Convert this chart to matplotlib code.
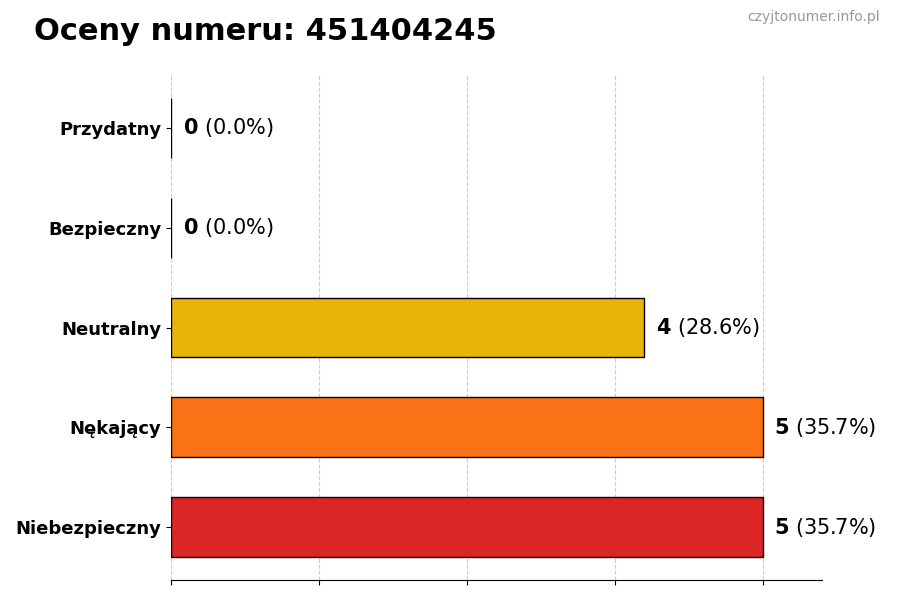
import matplotlib
matplotlib.use("Agg")
import matplotlib.pyplot as plt

categories = ["Niebezpieczny", "Nękający", "Neutralny", "Bezpieczny", "Przydatny"]
counts = [5, 5, 4, 0, 0]
colors = ["#dc2626", "#f97316", "#eab308", "#22c55e", "#3b82f6"]
number = "451404245"
total = sum(counts)

fig = plt.figure(figsize=(9, 6), dpi=100)
ax = fig.add_axes([0.19, 0.0333, 0.723, 0.8417])
bars = ax.barh(range(len(categories)), counts, height=0.6, color=colors,
               edgecolor="black", linewidth=1, zorder=3)
ax.set_yticks(range(len(categories)))
ax.set_yticklabels(categories, fontsize=13, fontweight="bold")
mx = max(counts)
ax.set_xlim(0, mx * 1.1)
ax.set_xticks([mx * i / 4 for i in range(5)])
ax.set_xticklabels([])
ax.grid(axis="x", linestyle="--", color="#cccccc", linewidth=0.8, zorder=0)
for s in ["top", "right", "left"]:
    ax.spines[s].set_visible(False)

for i, c in enumerate(counts):
    pct = c / total * 100
    ax.text(c + mx * 0.02, i, r"$\bf{" + str(c) + "}$" + f" ({pct:.1f}%)",
            va="center", ha="left", fontsize=15, zorder=4)

fig.text(0.038, 0.948, f"Oceny numeru: {number}", fontsize=22, fontweight="bold",
         ha="left", va="center")
fig.text(0.978, 0.972, "czyjtonumer.info.pl", fontsize=10, color="#999999",
         ha="right", va="center")
fig.savefig("out.png", dpi=100)
